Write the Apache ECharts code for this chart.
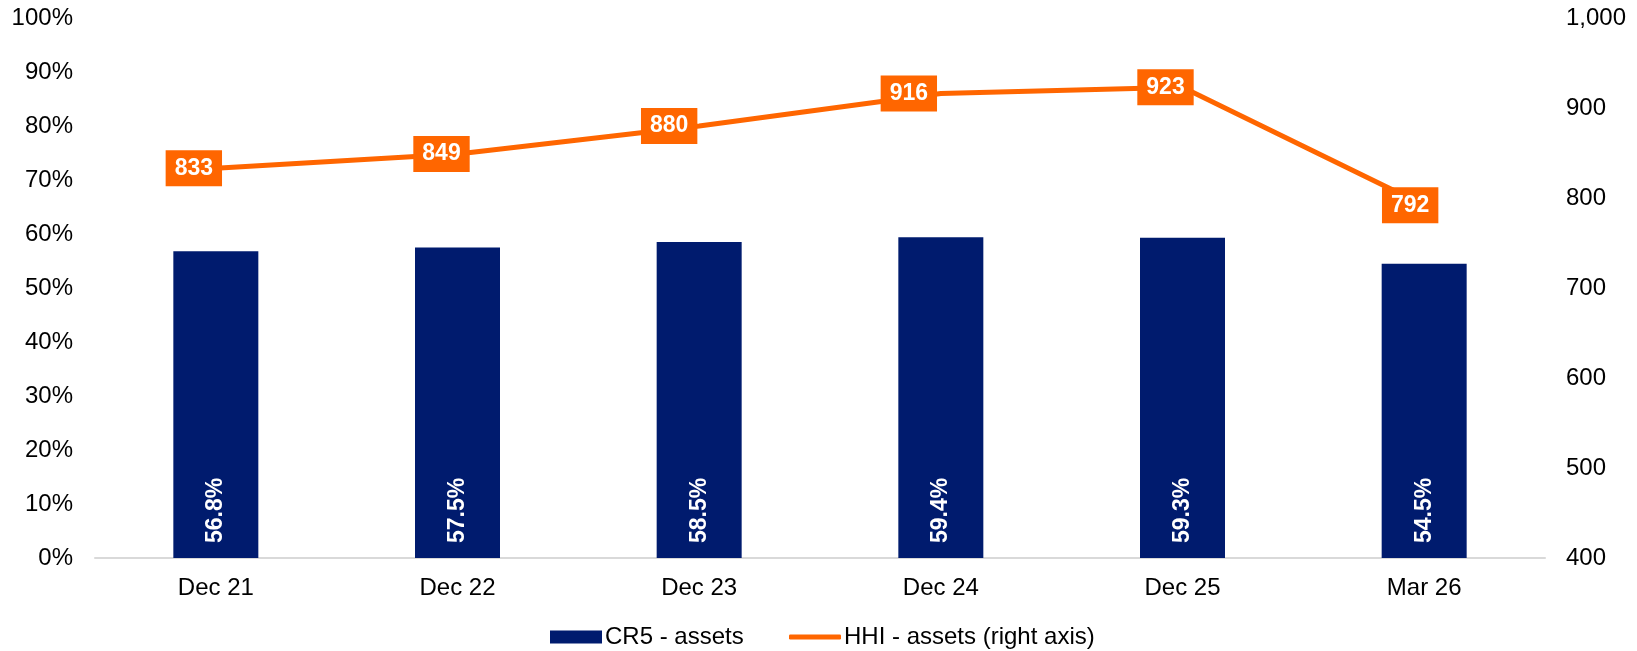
<!DOCTYPE html>
<html>
<head>
<meta charset="utf-8">
<script src="https://cdn.jsdelivr.net/npm/echarts@6/dist/echarts.min.js"></script>
<style>
html,body{margin:0;padding:0;background:#fff;}
#chart{width:1637px;height:651px;}
</style>
</head>
<body>
<div id="chart"></div>
<script>
const categories = ['Dec 21', 'Dec 22', 'Dec 23', 'Dec 24', 'Dec 25', 'Mar 26'];
const cr5Assets = [56.8, 57.5, 58.5, 59.4, 59.3, 54.5];
const hhiAssets = [833, 849, 880, 916, 923, 792];
const seriesNames = ['CR5 - assets', 'HHI - assets (right axis)'];

// styling
const FONT = "'Liberation Sans', Arial, sans-serif";
const NAVY = '#001b6e';
const ORANGE = '#ff6600';
// horizontal nudges of the HHI data labels (as placed in the original)
const hhiLabelShift = [-22, -16, -30, -32, -17, -14];

const chart = echarts.init(document.getElementById('chart'), null, {renderer: 'canvas'});
chart.setOption({
  animation: false,
  backgroundColor: '#fff',
  textStyle: {fontFamily: FONT},
  grid: {left: 95, right: 92, top: 18, bottom: 93, containLabel: false},
  legend: [
    {
      data: [seriesNames[0]],
      left: 550, top: 625, padding: 0,
      icon: 'rect', itemWidth: 52, itemHeight: 13, itemGap: 4,
      textStyle: {fontFamily: FONT, fontSize: 24, color: '#000', padding: [0,0,0,-2]}
    },
    {
      data: [seriesNames[1]],
      left: 789, top: 625, padding: 0,
      icon: 'roundRect', itemWidth: 52, itemHeight: 5, itemGap: 4,
      itemStyle: {color: ORANGE},
      textStyle: {fontFamily: FONT, fontSize: 24, color: '#000', padding: [0,0,0,-2]}
    }
  ],
  xAxis: {
    type: 'category',
    data: categories,
    axisLine: {lineStyle: {color: '#d9d9d9', width: 2}},
    axisTick: {show: false},
    axisLabel: {fontFamily: FONT, fontSize: 24, color: '#000', margin: 18}
  },
  yAxis: [
    {
      type: 'value', min: 0, max: 100, interval: 10,
      splitLine: {show: false},
      axisLine: {show: false}, axisTick: {show: false},
      axisLabel: {fontFamily: FONT, fontSize: 24, color: '#000', margin: 22, formatter: '{value}%'}
    },
    {
      type: 'value', min: 400, max: 1000, interval: 100,
      splitLine: {show: false},
      axisLine: {show: false}, axisTick: {show: false},
      axisLabel: {fontFamily: FONT, fontSize: 24, color: '#000', margin: 21,
        formatter: v => v.toLocaleString('en-US')}
    }
  ],
  series: [
    {
      name: seriesNames[0],
      type: 'bar',
      data: cr5Assets,
      barWidth: 85,
      itemStyle: {color: NAVY},
      label: {
        show: true, position: 'insideBottom', rotate: 90,
        align: 'left', verticalAlign: 'middle', distance: 15,
        color: '#fff', fontWeight: 'bold', fontSize: 23, fontFamily: FONT,
        formatter: p => p.value.toFixed(1) + '%'
      }
    },
    {
      name: seriesNames[1],
      type: 'line',
      yAxisIndex: 1,
      data: hhiAssets.map((v, i) => ({value: v, label: {offset: [hhiLabelShift[i], 0]}})),
      symbol: 'rect', symbolSize: 2,
      itemStyle: {color: ORANGE},
      lineStyle: {color: ORANGE, width: 5},
      label: {
        show: true, position: 'inside',
        color: '#fff', fontWeight: 'bold', fontSize: 23, fontFamily: FONT,
        backgroundColor: ORANGE, padding: [5, 9, 5, 9], lineHeight: 26
      },
      z: 3
    }
  ]
});
</script>
</body>
</html>
